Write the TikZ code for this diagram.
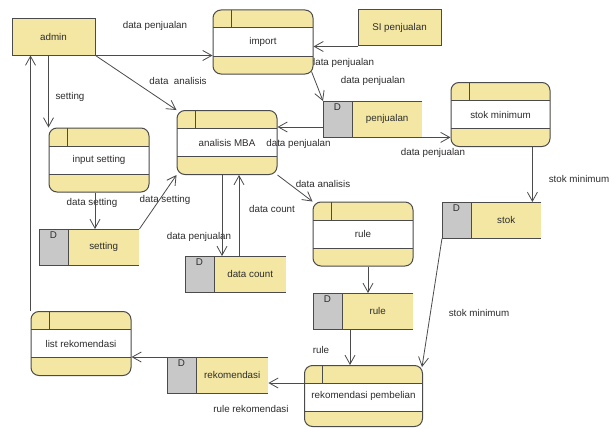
\documentclass[tikz,border=0pt]{standalone}
\usepackage{fontspec}
\setmainfont{Liberation Sans}
\usetikzlibrary{arrows.meta,calc}
\definecolor{yel}{RGB}{243,231,163}
\definecolor{grayd}{RGB}{200,200,200}
\definecolor{bd}{RGB}{75,75,75}
\definecolor{tx}{RGB}{45,45,45}
\tikzset{
  lbl/.style={text=tx, inner sep=0pt},
  bdline/.style={draw=bd, line width=1pt, sharp corners},
  ent/.style={draw=bd, fill=yel, line width=1pt, minimum width=83pt, minimum height=36pt, inner sep=0pt, text=tx},
  proc/.style={draw=bd, fill=yel, rounded corners=8pt, line width=1pt, minimum width=100pt, minimum height=64pt, inner sep=0pt, text=tx,
    path picture={
      \fill[white, sharp corners] ([yshift=-18pt]path picture bounding box.north west) rectangle ([yshift=-46pt]path picture bounding box.north east);
      \draw[bdline] ([yshift=-18pt]path picture bounding box.north west) -- ([yshift=-18pt]path picture bounding box.north east);
      \draw[bdline] ([yshift=-46pt]path picture bounding box.north west) -- ([yshift=-46pt]path picture bounding box.north east);
      \draw[bdline] ([xshift=18pt]path picture bounding box.north west) -- ([xshift=18pt,yshift=-18pt]path picture bounding box.north west);
    }},
  storebg/.style={fill=yel, minimum height=36pt, inner sep=0pt},
  arr/.style={draw=bd, line width=0.8pt, -{Straight Barb[length=9pt,width=10pt]}}
}
\newcommand{\dstore}[5]{%
  \node[storebg, minimum width=#4pt, anchor=north west] (#1) at (#2,#3) {};
  \fill[grayd] (#1.north west) rectangle ([xshift=29pt]#1.south west);
  \draw[bdline] (#1.north east) -- (#1.north west) -- (#1.south west) -- (#1.south east);
  \draw[bdline] ([xshift=29pt]#1.north west) -- ([xshift=29pt]#1.south west);
  \node[lbl] (#1-d) at ([xshift=14.5pt,yshift=-6.5pt]#1.north west) {D};
  \node[lbl] (#1-t) at ([xshift=14.5pt]#1.center) {#5};
}
\begin{document}
\begin{tikzpicture}[x=1pt, y=-1pt, font=\fontsize{9.8}{11}\selectfont]
\useasboundingbox (0,0) rectangle (612,428);
\fill[white] (0,0) rectangle (612,428);
% labels
\node[lbl] (l1) at (155,26) {data penjualan};
\node[lbl] (l2) at (178,81) {data\ \ analisis};
\node[lbl] (l3) at (70,97) {setting};
\node[lbl] (l4) at (342,63) {data penjualan};
\node[lbl] (l5) at (373,81) {data penjualan};
\node[lbl] (l7) at (433,153) {data penjualan};
\node[lbl] (l8) at (579,179) {stok minimum};
\node[lbl] (l9) at (323,184) {data analisis};
\node[lbl] (l10) at (92,203) {data setting};
\node[lbl] (l11) at (165,200) {data setting};
\node[lbl] (l12) at (272,209) {data count};
\node[lbl] (l13) at (199,237) {data penjualan};
\node[lbl] (l14) at (479,313) {stok minimum};
\node[lbl] (l15) at (321,350) {rule};
\node[lbl] (l16) at (251,409) {rule rekomendasi};
% entities
\node[ent] (admin) at (53.5,37) {admin};
\node[ent] (si) at (399.5,28) {SI penjualan};
% processes
\node[proc] (import) at (263,42) {import};
\node[proc] (mba) at (227,142.5) {analisis MBA};
\node[proc] (inset) at (99,160) {input setting};
\node[proc, minimum width=99pt] (stokmin) at (500.5,114.5) {stok minimum};
\node[proc] (rule) at (363,234) {rule};
\node[proc] (list) at (81,343.5) {list rekomendasi};
\node[proc, minimum width=118pt, minimum height=61pt] (rp) at (363.5,396) {rekomendasi pembelian};
\node[lbl] (l6) at (298.5,144) {data penjualan};
% stores
\dstore{setting}{39}{229}{100}{setting}
\dstore{dcount}{185}{256}{101}{data count}
\dstore{penj}{323}{101}{99}{penjualan}
\dstore{stok}{442}{202}{99}{stok}
\dstore{rulest}{313}{293}{100}{rule}
\dstore{rek}{167}{357}{101}{rekomendasi}
% connectors
\draw[arr] (admin.south east) -- (admin.south east -| import.west);
\draw[arr] (si.south west) -- (si.south west -| import.east);
\draw[arr] (admin.south east) -- (mba.north west);
\draw[arr] (inset.north west |- admin.south) -- (inset.north west);
\draw[arr] (list.north west) -- (list.north west |- admin.south);
\draw[arr] ([xshift=-2pt,yshift=3pt]import.south east) -- (penj.north west);
\coordinate (p1) at ([yshift=-26pt]penj.north west);
\draw[arr] (p1) -- (p1 -| mba.east);
\draw[arr] (penj.south east) -- (penj.south east -| stokmin.west);
\coordinate (s1) at ([xshift=-9pt]stok.north east);
\draw[arr] (s1 |- stokmin.south) -- (s1);
\draw[arr] (stok.south west) -- ([xshift=-1pt,yshift=-2pt]rp.north east);
\draw[arr] (mba.south east) -- (rule.north west);
\coordinate (d1) at ([xshift=37pt]dcount.north west);
\draw[arr] (d1 |- mba.south) -- (d1);
\coordinate (d2) at ([xshift=54pt]dcount.north west);
\draw[arr] (d2) -- (d2 |- mba.south);
\coordinate (i1) at ([xshift=56pt]setting.north west);
\draw[arr] (i1 |- inset.south) -- (i1);
\draw[arr] (setting.north east) -- (mba.south west);
\coordinate (r1) at ([xshift=55pt]rulest.north west);
\draw[arr] (r1 |- rule.south) -- (r1);
\coordinate (r2) at ([xshift=37pt]rulest.north west);
\draw[arr] (r2 |- rulest.south) -- (r2 |- rp.north);
\coordinate (k1) at ([yshift=-18pt]rp.north west);
\draw[arr] (k1) -- (k1 -| rek.east);
\draw[arr] (rek.north west) -- (rek.north west -| list.east);
\end{tikzpicture}
\end{document}
